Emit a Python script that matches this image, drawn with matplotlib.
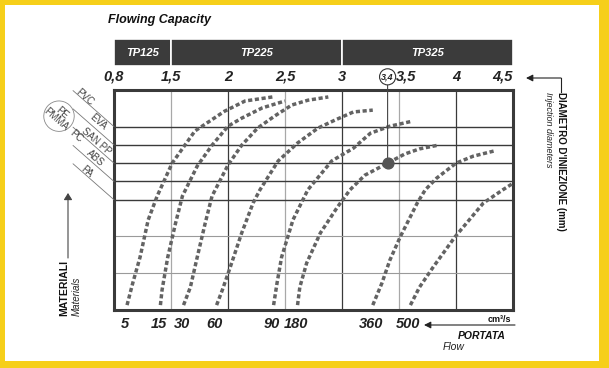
'''
 Flowing capacity chart: injection diameter, material and flow of the machines
'''
import numpy as np
import matplotlib
matplotlib.use('Agg')
import matplotlib.pyplot as plt
from matplotlib.patches import Rectangle, FancyArrowPatch
from matplotlib.lines import Line2D
from matplotlib.transforms import ScaledTranslation

plt.rcParams['font.family'] = ['Liberation Sans', 'DejaVu Sans']

# Injection diameters of the top scale (mm)
diam_ticks = [0.8, 1.5, 2, 2.5, 3, 3.5, 4, 4.5]
diam_labels = ['0,8', '1,5', '2', '2,5', '3', '3,5', '4', '4,5']

# Machines and the diameter range of each one
machines = ['TP125', 'TP225', 'TP325']
machine_from = [0.8, 1.5, 3.0]
machine_to = [1.5, 3.0, 4.5]

# Material rows of the vertical scale
material_levels = [5, 4.5, 4, 3.5, 3]
light_levels = [1, 2]
dark_diams = [2, 3, 4]
light_diams = [1.5, 2.5, 3.5]

# Flow curves (cm3/s): diameter and material level
flow_labels = ['5', '15', '30', '60', '90', '180', '360', '500']
diam_5 = [0.96, 1.03, 1.12, 1.22, 1.33, 1.51, 1.71, 1.97, 2.15, 2.39]
level_5 = [0.12, 0.72, 1.43, 2.45, 3.10, 4.00, 4.88, 5.42, 5.70, 5.81]
diam_15 = [1.37, 1.39, 1.46, 1.54, 1.60, 1.73, 1.86, 2.00, 2.12, 2.30, 2.50]
level_15 = [0.12, 0.53, 1.43, 2.36, 3.10, 3.92, 4.49, 5.01, 5.23, 5.51, 5.70]
diam_30 = [1.61, 1.67, 1.73, 1.80, 1.86, 2.00, 2.12, 2.26, 2.41, 2.56, 2.70, 2.88]
level_30 = [0.12, 0.61, 1.43, 2.36, 3.10, 3.95, 4.49, 4.96, 5.29, 5.59, 5.72, 5.81]
diam_60 = [1.90, 1.95, 2.02, 2.12, 2.22, 2.28, 2.44, 2.61, 2.79, 2.94, 3.10, 3.27]
level_60 = [0.12, 0.53, 1.16, 2.09, 2.91, 3.27, 4.06, 4.55, 4.96, 5.18, 5.40, 5.45]
diam_90 = [2.40, 2.43, 2.47, 2.57, 2.70, 2.91, 3.10, 3.25, 3.42, 3.62]
level_90 = [0.12, 0.72, 1.43, 2.45, 3.27, 4.06, 4.41, 4.82, 5.01, 5.15]
diam_180 = [2.61, 2.63, 2.69, 2.81, 2.96, 3.07, 3.20, 3.40, 3.55, 3.68, 3.84]
level_180 = [0.12, 0.61, 1.27, 2.09, 2.80, 3.27, 3.67, 4.00, 4.25, 4.39, 4.49]
diam_360 = [3.27, 3.35, 3.42, 3.51, 3.66, 3.73, 3.83, 4.00, 4.15, 4.33]
level_360 = [0.12, 0.72, 1.35, 1.98, 2.91, 3.27, 3.59, 4.00, 4.19, 4.33]
diam_500 = [3.60, 3.68, 3.80, 3.99, 4.24, 4.41, 4.49]
level_500 = [0.12, 0.61, 1.16, 1.98, 2.91, 3.27, 3.43]

# Working point marked on the chart
point_diam = 3.4
point_level = 4.0
point_label = '3,4'

W, H = 609, 368 # Size of the picture in pixels

def fx(x, y):
	'''Pixel position to figure fraction'''
	return x / W, 1 - y / H

# Segmented diameter scale: every tick is one step of the scale
positions = np.arange(len(diam_ticks))
forward = lambda d: np.interp(d, diam_ticks, positions)
inverse = lambda p: np.interp(p, positions, diam_ticks)

fig = plt.figure(figsize = (6.09, 3.68), dpi = 100) # Figure of the graph
fig.patch.set_facecolor('#F6CF1A') # Yellow frame
fig.add_artist(Rectangle(fx(5, 361), 594 / W, 356 / H, transform = fig.transFigure,
                         facecolor = 'white', edgecolor = 'none', zorder = 0)) # White sheet

ax = fig.add_axes([114 / W, 58.5 / H, 399 / W, 219.5 / H]) # Main canvas
ax.set_xscale('function', functions = (forward, inverse))
ax.set_xlim(diam_ticks[0], diam_ticks[-1])
ax.set_ylim(0, 6)

# Grid of the chart
for d in light_diams:
	ax.axvline(d, color = '#a8a8a8', linewidth = 0.9, zorder = 1)
for d in dark_diams:
	ax.axvline(d, color = '#3a3a3a', linewidth = 0.9, zorder = 1)
for lv in material_levels:
	ax.axhline(lv, color = '#3a3a3a', linewidth = 1.0, zorder = 1)
for lv in light_levels:
	ax.axhline(lv, color = '#9a9a9a', linewidth = 0.8, zorder = 1)

# Flow curves
curves = [(diam_5, level_5), (diam_15, level_15), (diam_30, level_30), (diam_60, level_60),
          (diam_90, level_90), (diam_180, level_180), (diam_360, level_360), (diam_500, level_500)]
for (d, lv), lab in zip(curves, flow_labels):
	ax.plot(d, lv, color = '#636363', linewidth = 2.5, linestyle = (0, (1.2, 0.75)),
	        dash_capstyle = 'butt', zorder = 3)
	# Flow value under the start of the curve
	ax.annotate(lab, xy = (d[0], 0), xytext = (-2, -14), textcoords = 'offset pixels',
	            ha = 'center', va = 'center', fontsize = 10.5, fontweight = 'bold',
	            fontstyle = 'italic', color = '#222222', annotation_clip = False)

# Working point and its diameter
ax.scatter([point_diam], [point_level], s = 60, color = '#555555', zorder = 4)
ax.annotate(point_label, xy = (point_diam, point_level), xytext = (point_diam, 1.06),
            textcoords = ('data', 'axes fraction'), ha = 'center', va = 'center',
            fontsize = 6.5, fontweight = 'bold', fontstyle = 'italic', color = '#222222',
            bbox = dict(boxstyle = 'circle,pad=0.2', fc = 'white', ec = '#333333', lw = 0.8),
            arrowprops = dict(arrowstyle = '-', color = '#444444', lw = 0.8,
                              shrinkA = 0, shrinkB = 0), annotation_clip = False)

# Top scale of diameters
ax.xaxis.tick_top()
ax.set_xticks(diam_ticks)
ax.set_xticklabels(diam_labels, fontsize = 10.5, fontweight = 'bold', fontstyle = 'italic',
                   color = '#222222')
ax.tick_params(axis = 'x', length = 0, pad = 4.5)
ax.set_yticks([])
ticks = ax.xaxis.get_major_ticks()
ticks[-1].label2.set_horizontalalignment('right') # Last label inside the frame
ticks[5].label2.set_transform(ticks[5].label2.get_transform()
                              + ScaledTranslation(0.07, 0, fig.dpi_scale_trans)) # Leave room for the mark

for s in ax.spines.values():
	s.set_linewidth(2.2)
	s.set_color('#3a3a3a')

# Material labels along the diagonal leaders
label_dic = {
	'PVC'    : {'level': 5,   'dx': -29, 'dy': 29},
	'EVA'    : {'level': 4.5, 'dx': -16, 'dy': 23},
	'SAN PP' : {'level': 4,   'dx': -18, 'dy': 22},
	'PC'     : {'level': 4,   'dx': -38, 'dy': 27},
	'ABS'    : {'level': 3.5, 'dx': -19, 'dy': 23},
	'PA'     : {'level': 3,   'dx': -27, 'dy': 28},
}
for lv in material_levels:
	ax.annotate('', xy = (0, lv), xycoords = ('axes fraction', 'data'), xytext = (-41, 36),
	            textcoords = 'offset pixels', annotation_clip = False,
	            arrowprops = dict(arrowstyle = '-', color = '#777777', lw = 0.6,
	                              shrinkA = 0, shrinkB = 0))
for name, data in label_dic.items():
	ax.annotate(name, xy = (0, data['level']), xycoords = ('axes fraction', 'data'),
	            xytext = (data['dx'], data['dy']), textcoords = 'offset pixels',
	            rotation = -41, ha = 'center', va = 'center', fontsize = 7, color = '#444444',
	            annotation_clip = False)
ax.annotate('PE\nPMMA', xy = (0, 4), xycoords = ('axes fraction', 'data'), xytext = (-55, 47),
            textcoords = 'offset pixels', rotation = -41, ha = 'center', va = 'center',
            fontsize = 7, color = '#444444', linespacing = 0.9, annotation_clip = False,
            bbox = dict(boxstyle = 'circle,pad=0.08', fc = 'none', ec = '#888888', lw = 0.6))

# Header with the machines
ax_head = fig.add_axes([114 / W, 302 / H, 399 / W, 27 / H])
ax_head.set_xscale('function', functions = (forward, inverse))
ax_head.set_xlim(diam_ticks[0], diam_ticks[-1])
ax_head.set_ylim(0, 1)
ax_head.axis('off')
for name, a, b in zip(machines, machine_from, machine_to):
	ax_head.barh(0.5, b - a, left = a, height = 1, color = '#3b3b3b', edgecolor = 'white',
	             linewidth = 1.2)
	mid = (forward(a) + forward(b)) / 2 / positions[-1] # Middle of the box
	ax_head.text(mid, 0.5, name, transform = ax_head.transAxes, ha = 'center', va = 'center',
	             color = 'white', fontsize = 8, fontweight = 'bold', fontstyle = 'italic')

# Title
fig.text(*fx(108, 20), 'Flowing Capacity', fontsize = 9, fontweight = 'bold',
         fontstyle = 'italic', va = 'center', color = '#111111')

# Right legend: injection diameters
fig.add_artist(Line2D([561 / W, 561 / W], [1 - 78 / H, 1 - 92 / H], transform = fig.transFigure,
                      color = '#222222', lw = 0.8))
fig.add_artist(FancyArrowPatch(fx(561, 78), fx(526, 78),
               transform = fig.transFigure, arrowstyle = '-|>,head_length=4,head_width=2',
               color = '#222222', lw = 0.8, shrinkA = 0, shrinkB = 0))
fig.text(*fx(561, 92), "DIAMETRO D'INIEZIONE (mm)", rotation = -90, ha = 'center', va = 'top',
         fontsize = 7, fontweight = 'bold', color = '#111111')
fig.text(*fx(549, 92), 'Injection diameters', rotation = -90, ha = 'center', va = 'top',
         fontsize = 6.5, fontstyle = 'italic', color = '#222222')

# Left legend: materials
fig.add_artist(FancyArrowPatch(fx(68, 258), fx(68, 193),
               transform = fig.transFigure, arrowstyle = '-|>,head_length=4,head_width=2.5',
               color = '#444444', lw = 0.8, shrinkA = 0, shrinkB = 0))
fig.text(*fx(64, 316), 'MATERIALI', rotation = 90, ha = 'center', va = 'bottom',
         fontsize = 7.5, fontweight = 'bold', color = '#111111')
fig.text(*fx(77, 316), 'Materials', rotation = 90, ha = 'center', va = 'bottom',
         fontsize = 7, fontstyle = 'italic', color = '#222222')

# Bottom legend: flow
fig.add_artist(FancyArrowPatch(fx(515, 325), fx(424, 325),
               transform = fig.transFigure, arrowstyle = '-|>,head_length=4,head_width=2',
               color = '#222222', lw = 0.8, shrinkA = 0, shrinkB = 0))
fig.text(*fx(499, 319), 'cm³/s', ha = 'center', va = 'center', fontsize = 6.5,
         fontweight = 'bold', color = '#111111')
fig.text(*fx(482, 336), 'PORTATA', ha = 'center', va = 'center', fontsize = 7.5,
         fontweight = 'bold', fontstyle = 'italic', color = '#111111')
fig.text(*fx(454, 347), 'Flow', ha = 'center', va = 'center', fontsize = 7.5,
         fontstyle = 'italic', color = '#222222')

fig.savefig('out.png', dpi = 100, facecolor = fig.get_facecolor())
